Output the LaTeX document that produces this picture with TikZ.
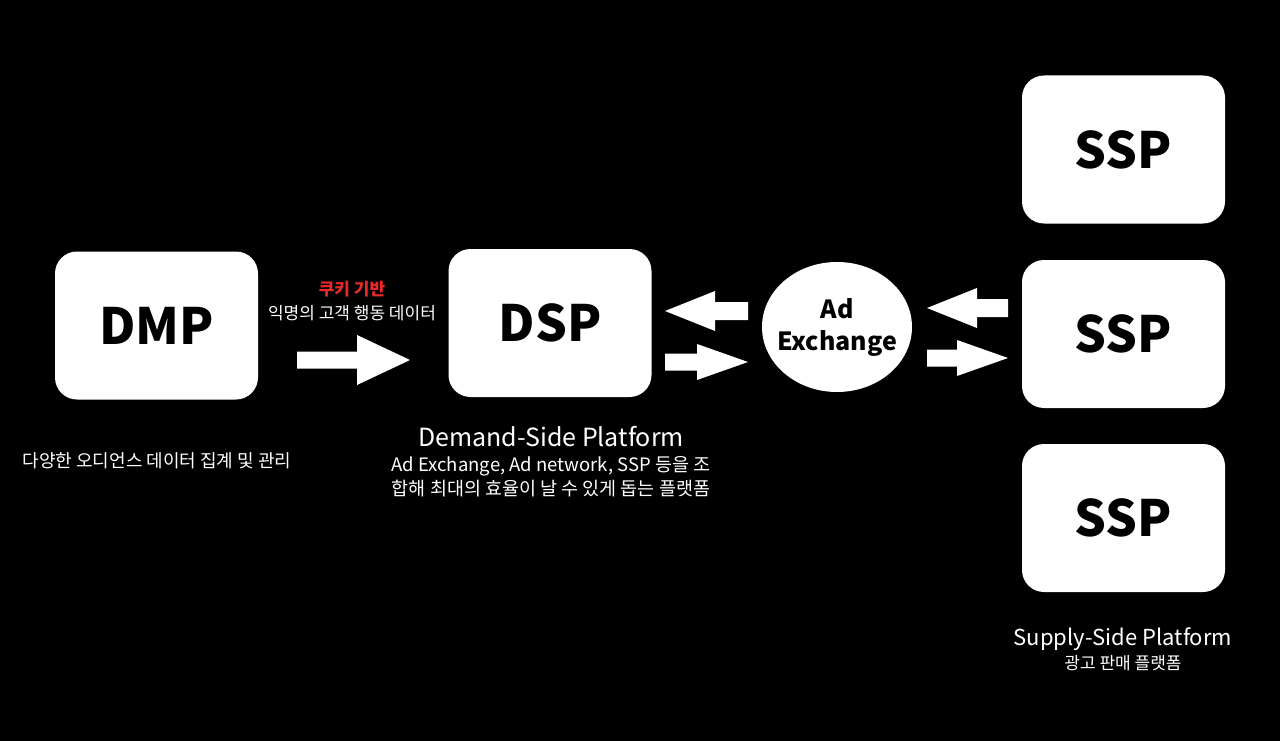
\documentclass[tikz,border=0pt]{standalone}
\usepackage{fontspec}
\setmainfont{Noto Sans CJK KR}
\usetikzlibrary{shapes.geometric}
\newcommand\barrow[6]{% x-tail, x-tip, y, shaft half, head half, head length
  \pgfmathsetmacro\dir{#2>#1 ? 1 : -1}
  \fill[white] (#1,#3-#4) -- ({#2-\dir*#6},#3-#4) -- ({#2-\dir*#6},#3-#5) -- (#2,#3)
    -- ({#2-\dir*#6},#3+#5) -- ({#2-\dir*#6},#3+#4) -- (#1,#3+#4) -- cycle;}
\begin{document}
\begin{tikzpicture}[x=1pt,y=-1pt,
  box/.style={fill=white,rounded corners=22pt,minimum width=203pt,minimum height=148pt,inner sep=0pt,font=\fontsize{50}{50}\selectfont\bfseries,text=black},
  lab/.style={text=white,font=\fontsize{18}{22}\selectfont,inner sep=0pt,align=center},
  big/.style={text=white,font=\fontsize{25}{28}\selectfont,inner sep=0pt}]
\fill[black] (0,0) rectangle (1280,741);
\node[box] (dmp) at (156.5,325.5) {DMP};
\node[box] (dsp) at (550,323) {DSP};
\node[box] (s1) at (1123.5,149.5) {SSP};
\node[box] (s2) at (1123.5,334) {SSP};
\node[box] (s3) at (1123.5,518) {SSP};
\fill[white] (837,327) ellipse [x radius=75, y radius=65];
\node[inner sep=0pt,align=center,font=\fontsize{25}{32}\selectfont\bfseries] (ax) at (837,327) {Ad\\Exchange};
\barrow{297}{410}{360}{8.5}{25}{53}
\barrow{748}{665}{311}{9}{20}{50}
\barrow{665}{748}{362}{8.5}{18}{51}
\barrow{1008}{927}{308}{9}{20}{50}
\barrow{927}{1008}{358}{8.5}{18}{51}
\node[lab,text={rgb,255:red,235;green,40;blue,40},font=\fontsize{17}{20}\selectfont\bfseries] (ck) at (352,289) {쿠키 기반};
\node[lab,font=\fontsize{17}{20}\selectfont] (an) at (352,313) {익명의 고객 행동 데이터};
\node[lab] (dmpl) at (157,461) {다양한 오디언스 데이터 집계 및 관리};
\node[big] (dspt) at (551,437) {Demand-Side Platform};
\node[lab,font=\fontsize{18.5}{24}\selectfont] (dspl) at (551,477) {Ad Exchange, Ad network, SSP 등을 조\\합해 최대의 효율이 날 수 있게 돕는 플랫폼};
\node[big,font=\fontsize{22}{26}\selectfont] (sspt) at (1123,639) {Supply-Side Platform};
\node[lab,font=\fontsize{17}{20}\selectfont] (sspl) at (1123,663) {광고 판매 플랫폼};
\end{tikzpicture}
\end{document}
